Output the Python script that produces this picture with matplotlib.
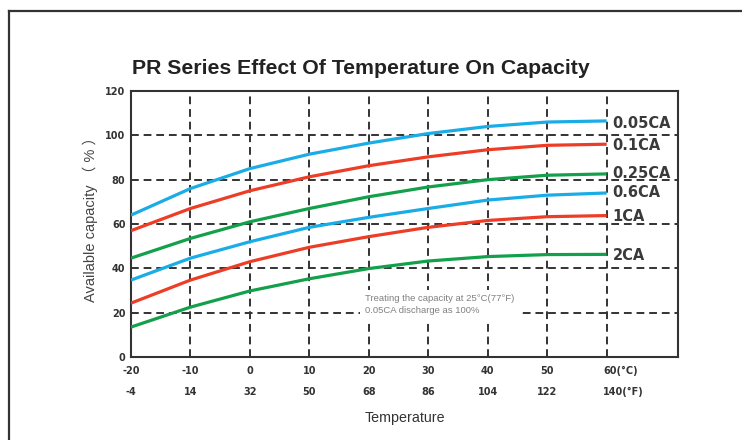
"""PR series: effect of temperature on available capacity."""
import matplotlib
matplotlib.use('Agg')
import matplotlib.pyplot as plt
from matplotlib.lines import Line2D

temp_c = [-20, -10, 0, 10, 20, 30, 40, 50, 60]
temp_f = [-4, 14, 32, 50, 68, 86, 104, 122, 140]

cap_005 = [64, 76, 85, 91.5, 96.5, 100.8, 104, 106, 106.5]
cap_01 = [57, 67, 75, 81.3, 86.3, 90.3, 93.5, 95.5, 96]
cap_025 = [44.6, 53.5, 61, 67, 72.3, 76.7, 80, 82, 82.6]
cap_06 = [34.7, 44.6, 52, 58.5, 63, 67, 70.8, 73, 74]
cap_1 = [24.3, 34.7, 43, 49.5, 54.3, 58.5, 61.6, 63.3, 63.8]
cap_2 = [13.5, 22.5, 29.8, 35.3, 39.9, 43.3, 45.3, 46.2, 46.3]

rates = ['0.05CA', '0.1CA', '0.25CA', '0.6CA', '1CA', '2CA']
series = [cap_005, cap_01, cap_025, cap_06, cap_1, cap_2]
label_y = [105.5, 95.6, 83, 74, 63.6, 46]

BLUE = '#1aace6'
RED = '#ee3d26'
GREEN = '#13a04a'
colors = [BLUE, RED, GREEN, BLUE, RED, GREEN]
DARK = '#333333'

fig = plt.figure(figsize=(7.42, 4.40), dpi=100)
ax = fig.add_axes([131 / 742, 83 / 440, 547 / 742, 266 / 440])
ax.set_xlim(-20, 72)
ax.set_ylim(0, 120)

# dashed grid
for c in temp_c[1:]:
    ax.axvline(c, color=DARK, lw=1.4, dashes=(4, 2.5), zorder=1)
for v in [20, 40, 60, 80, 100]:
    ax.axhline(v, color=DARK, lw=1.4, dashes=(4, 2.5), zorder=1)

for vals, col in zip(series, colors):
    ax.plot(temp_c, vals, color=col, lw=2.3, solid_capstyle='butt',
            solid_joinstyle='round', zorder=3)

for name, y in zip(rates, label_y):
    ax.text(61.0, y, name, fontsize=10.5, fontweight='bold', color='#3a3a3a',
            ha='left', va='center', family='DejaVu Sans', zorder=4)

ax.text(19.3, 23.5, 'Treating the capacity at 25°C(77°F)\n0.05CA discharge as 100%',
        fontsize=6.8, color='#808080', ha='left', va='center',
        family='Liberation Sans', linespacing=1.45, zorder=2,
        bbox=dict(boxstyle='square,pad=0.45', fc='white', ec='none'))

for s in ax.spines.values():
    s.set_color(DARK)
    s.set_linewidth(1.5)

ax.set_yticks([0, 20, 40, 60, 80, 100, 120])
ax.tick_params(axis='y', length=0, pad=4, labelsize=7, labelcolor=DARK)
for lab in ax.get_yticklabels():
    lab.set_fontweight('bold')
ax.set_xticks([])

xt = ax.get_xaxis_transform()
for c, f in zip(temp_c, temp_f):
    cl = f'{c}(°C)' if c == 60 else str(c)
    fl = f'{f}(°F)' if c == 60 else str(f)
    x = c - 0.6 if c == 60 else c
    ha = 'left' if c == 60 else 'center'
    ax.text(x, -0.054, cl, transform=xt, ha=ha, va='center', fontsize=7,
            fontweight='bold', color=DARK)
    ax.text(x, -0.133, fl, transform=xt, ha=ha, va='center', fontsize=7,
            fontweight='bold', color=DARK)

fig.text(405 / 742, 1 - 418 / 440, 'Temperature', ha='center', va='center',
         fontsize=10.3, color='#333333', family='Liberation Sans')
fig.text(90 / 742, 1 - 216 / 440, 'Available capacity （ % ）', rotation=90,
         ha='center', va='center', fontsize=10.5, color='#444444',
         family=['Liberation Sans', 'Noto Sans CJK SC'])
fig.text(361 / 742, 1 - 69 / 440, 'PR Series Effect Of Temperature On Capacity',
         ha='center', va='center', fontsize=15.3, fontweight='bold',
         color='#222222', family='Liberation Sans')

# outer frame (top and left only)
fig.add_artist(Line2D([9 / 742, 1.0], [1 - 11 / 440, 1 - 11 / 440],
                      transform=fig.transFigure, color='#333333', lw=1.6))
fig.add_artist(Line2D([9 / 742, 9 / 742], [0, 1 - 11 / 440],
                      transform=fig.transFigure, color='#333333', lw=1.6))

fig.savefig('out.png', dpi=100)
